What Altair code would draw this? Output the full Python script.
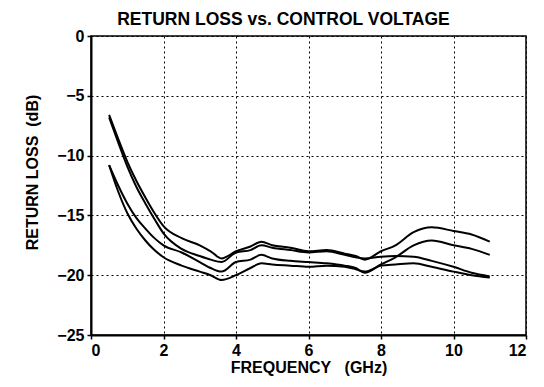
import altair as alt
import pandas as pd

freq = [0.5, 0.75, 1.0, 1.25, 1.5, 1.75, 2.0, 2.5, 3.0, 3.3, 3.6, 4.0, 4.4, 4.7,
        5.0, 5.5, 6.0, 6.5, 7.0, 7.3, 7.55, 8.0, 8.4, 8.9, 9.4, 10.0, 10.5, 11.0]

curve_a = [-6.6, -8.6, -10.5, -12.1, -13.5, -14.8, -15.9, -16.9, -17.5, -18.0, -18.6,
           -18.0, -17.6, -17.2, -17.5, -17.7, -18.0, -17.9, -18.2, -18.4, -18.7,
           -18.0, -17.5, -16.4, -16.0, -16.3, -16.6, -17.2]
curve_b = [-10.8, -12.5, -14.0, -15.2, -16.1, -16.9, -17.5, -18.1, -18.9, -19.4, -19.7,
           -18.9, -18.7, -18.3, -18.6, -18.8, -18.9, -19.0, -19.2, -19.4, -19.8,
           -19.1, -18.5, -17.5, -17.1, -17.5, -17.8, -18.3]
curve_c = [-6.8, -8.9, -10.9, -12.6, -14.0, -15.3, -16.5, -17.8, -18.4, -18.7, -18.9,
           -18.1, -17.9, -17.5, -17.7, -17.9, -18.1, -18.0, -18.3, -18.5, -18.6,
           -18.45, -18.4, -18.45, -18.8, -19.3, -19.8, -20.1]
curve_d = [-10.8, -13.0, -14.8, -16.1, -17.1, -17.9, -18.5, -19.2, -19.7, -20.0, -20.4,
           -20.0, -19.4, -19.0, -19.1, -19.2, -19.3, -19.2, -19.3, -19.5, -19.7,
           -19.2, -19.1, -19.0, -19.3, -19.7, -20.0, -20.2]

x_ticks = [0, 2, 4, 6, 8, 10, 12]
y_ticks = [-25, -20, -15, -10, -5, 0]

rows = []
for name, vals in [("A", curve_a), ("B", curve_b), ("C", curve_c), ("D", curve_d)]:
    for f, v in zip(freq, vals):
        rows.append({"series": name, "freq": f, "rl": v})
df = pd.DataFrame(rows)

FONT = "Liberation Sans"

chart = alt.Chart(df).mark_line(color="black", strokeWidth=2, interpolate="monotone").encode(
    x=alt.X("freq:Q", scale=alt.Scale(domain=[0, 12], nice=False),
            axis=alt.Axis(values=x_ticks, title="FREQUENCY\u00a0\u00a0\u00a0(GHz)",
                          titleFontSize=16, titlePadding=1)),
    y=alt.Y("rl:Q", scale=alt.Scale(domain=[-25, 0], nice=False),
            axis=alt.Axis(values=y_ticks, title="RETURN LOSS\u00a0\u00a0(dB)",
                          titleFontSize=16, titleX=-59, titleY=136,
                          titleAlign="center", titleBaseline="middle", titleAngle=-90)),
    detail="series:N",
).properties(
    width=435,
    height=299,
    title=alt.TitleParams("RETURN LOSS vs. CONTROL VOLTAGE", fontSize=17.5, font=FONT,
                          fontWeight="bold", color="black", dx=-25, offset=0),
    autosize=alt.AutoSizeParams(type="none"),
    padding={"left": 83, "top": 28, "right": 10, "bottom": 44},
).configure_view(
    stroke="black", strokeWidth=1.5
).configure_axis(
    domainColor="black", domainWidth=2,
    tickColor="black", tickSize=4, tickWidth=1.5,
    labelFont=FONT, labelFontSize=16, labelFontWeight="bold", labelColor="black",
    labelPadding=3,
    titleFont=FONT, titleFontWeight="bold", titleColor="black",
    grid=True, gridColor="black", gridDash=[2, 3], gridWidth=1, gridOpacity=1,
)

chart.save("out.html", embed_options={"renderer": "svg", "actions": False})
